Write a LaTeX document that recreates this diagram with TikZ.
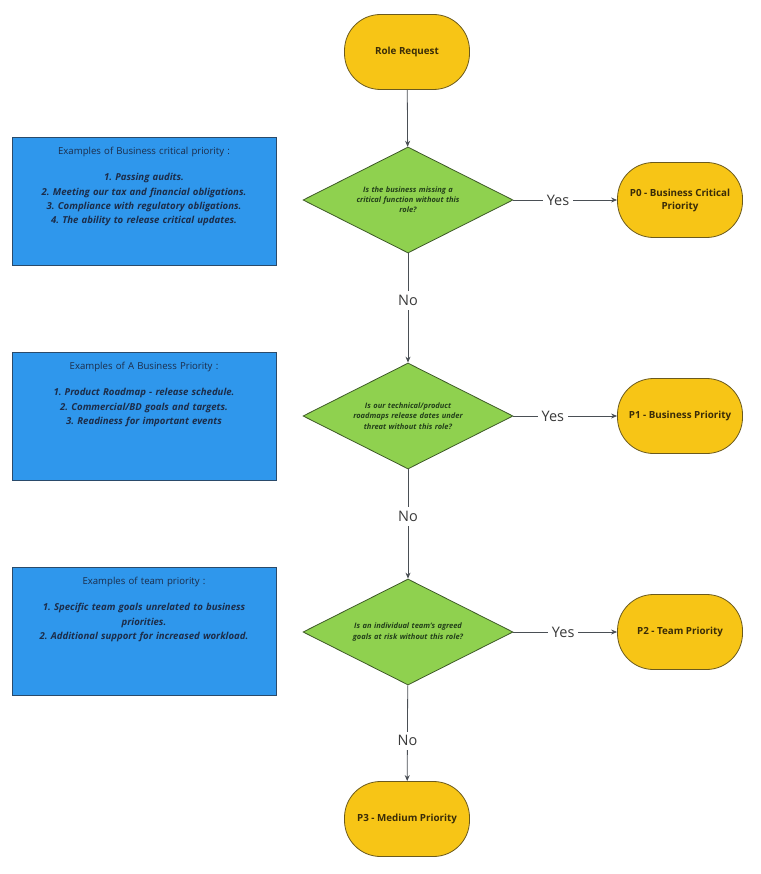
\documentclass[tikz,border=0pt]{standalone}
\usepackage{fontspec}
\setmainfont{Open Sans}
\frenchspacing
\usetikzlibrary{arrows.meta,calc,positioning,shapes.geometric}
\definecolor{termfill}{HTML}{F7C516}
\definecolor{termedge}{HTML}{6B5A1E}
\definecolor{termtext}{HTML}{3A2C08}
\definecolor{askfill}{HTML}{8FD14F}
\definecolor{askedge}{HTML}{3E5A28}
\definecolor{asktext}{HTML}{23401A}
\definecolor{notefill}{HTML}{2F97EC}
\definecolor{noteedge}{HTML}{2A4A6A}
\definecolor{notetxt}{HTML}{1C2D4A}
\definecolor{flowline}{HTML}{4A4F55}
\definecolor{anscol}{HTML}{3A3A3A}

\begin{document}
\begin{tikzpicture}[x=1pt,y=-1pt,
	term/.style={rectangle, rounded corners=36pt, draw=termedge, fill=termfill, line width=0.8pt,
		minimum width=125pt, minimum height=75pt, align=center, text=termtext,
		font=\fontsize{9.8}{13}\selectfont\bfseries},
	ask/.style={diamond, aspect=2, draw=askedge, fill=askfill, line width=0.8pt, inner sep=0pt,
		minimum width=210pt, minimum height=106pt, text width=130pt, align=center, text=asktext,
		font=\fontsize{7.5}{10.2}\selectfont\bfseries\itshape},
	note/.style={rectangle, draw=noteedge, fill=notefill, line width=0.8pt,
		minimum width=264pt, minimum height=128pt},
	notetext/.style={anchor=north, inner sep=0pt, text width=250pt, align=center, text=notetxt,
		font=\fontsize{9.6}{14.3}\selectfont},
	flow/.style={draw=flowline, line width=0.8pt, -{Stealth[length=6pt,width=5pt]}},
	ans/.style={fill=white, text=anscol, inner sep=4pt, font=\fontsize{14.5}{16}\selectfont}]
	\useasboundingbox (0,0) rectangle (760,874);
	% flow
	\node[term] (req) at (407,52) {Role Request};
	\node[ask] (q0) at (408,200) {Is the business missing a\\ critical function without this\\ role?};
	\node[term] (p0) at (680,200) {P0 - Business Critical\\ Priority};
	\node[ask] (q1) at (408,416) {Is our technical/product\\ roadmaps release dates under\\ threat without this role?};
	\node[term] (p1) at (680,416) {P1 - Business Priority};
	\node[ask] (q2) at (408,632) {Is an individual team's agreed\\ goals at risk without this role?};
	\node[term] (p2) at (680,632) {P2 - Team Priority};
	\node[term] (p3) at (407,819) {P3 - Medium Priority};
	% notes
	\node[note] (n0) at (144,201) {};
	\node[notetext] (t0) at ($(n0.north)+(0,10.5)$) {Examples of Business critical priority :\\[12pt]
		\bfseries\itshape 1. Passing audits.\\ 2. Meeting our tax and financial obligations.\\
		3. Compliance with regulatory obligations.\\ 4. The ability to release critical updates.};
	\node[note] (n1) at (144,416) {};
	\node[notetext] (t1) at ($(n1.north)+(0,10.5)$) {Examples of A Business Priority :\\[12pt]
		\bfseries\itshape 1. Product Roadmap - release schedule.\\ 2. Commercial/BD goals and targets.\\
		3. Readiness for important events};
	\node[note] (n2) at (144,631) {};
	\node[notetext] (t2) at ($(n2.north)+(0,10.5)$) {Examples of team priority :\\[12pt]
		\bfseries\itshape 1. Specific team goals unrelated to business\\ priorities.\\
		2. Additional support for increased workload.};
	% connectors
	\draw[flow] (req) -- (q0);
	\draw[flow] (q0) -- node[ans, pos=0.43] {No} (q1);
	\draw[flow] (q1) -- node[ans, pos=0.43] {No} (q2);
	\draw[flow] (q2) -- node[ans, pos=0.58] {No} (p3);
	\draw[flow] (q0) -- node[ans, pos=0.43] {Yes} (p0);
	\draw[flow] (q1) -- node[ans, pos=0.38] {Yes} (p1);
	\draw[flow] (q2) -- node[ans, pos=0.48] {Yes} (p2);
\end{tikzpicture}
\end{document}
